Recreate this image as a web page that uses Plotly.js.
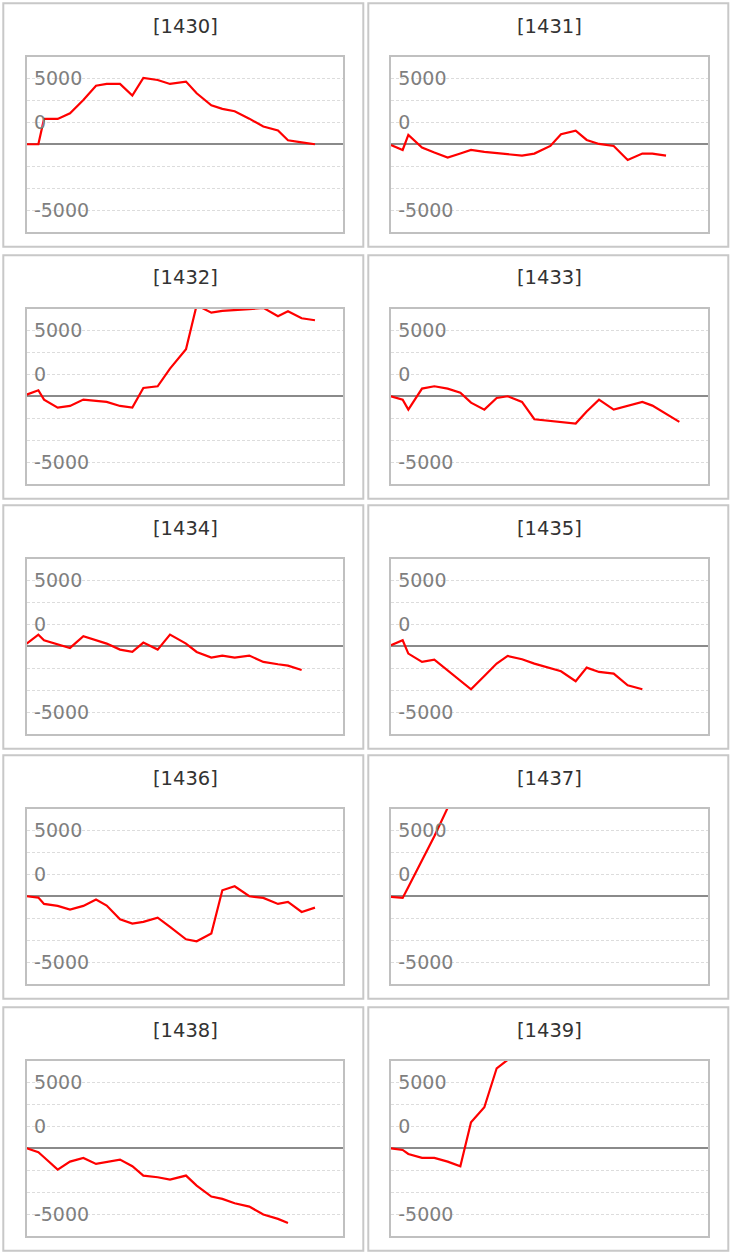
<!DOCTYPE html>
<html>
<head>
<meta charset="utf-8">
<script src="https://cdn.plot.ly/plotly-3.0.1.min.js"></script>
<style>
  html, body { margin: 0; padding: 0; background: #fff; }
  #chart { width: 735px; height: 1254px; }
</style>
</head>
<body>
<div id="chart"></div>
<script>
// shared x positions (trading days)
var days = [0, 3.5, 5.2, 9.3, 13, 17, 20.8, 24, 28, 31.7, 35, 39.3, 43, 47.8, 51, 55.4, 58.7, 62.4, 66.8, 71, 75.4, 78.4, 82.5, 86.5];

var codes = ['1430', '1431', '1432', '1433', '1434', '1435', '1436', '1437', '1438', '1439'];

// values per code
var v1430 = [0, 0, 1920, 1920, 2350, 3360, 4440, 4570, 4570, 3690, 5020, 4870, 4570, 4750, 3860, 2950, 2680, 2500, 1940, 1340, 1040, 300, 150, 0];
var v1431 = [-50, -430, 707, -253, -631, -1010, -695, -430, -580, -665, -746, -860, -707, -126, 758, 1035, 328, 25, -126, -1187, -707, -707, -860];
var v1432 = [126, 455, -253, -860, -732, -253, -354, -430, -732, -860, 631, 758, 2096, 3560, 6900, 6338, 6464, 6515, 6600, 6700, 6060, 6440, 5910, 5760];
var v1433 = [0, -253, -1010, 581, 758, 581, 278, -480, -1010, -126, 0, -430, -1742, -1875, -1960, -2070, -1160, -253, -1010, -707, -430, -707, -1313, -1944];
var v1434 = [202, 884, 455, 150, -126, 758, 455, 202, -253, -430, 278, -253, 884, 202, -430, -860, -707, -860, -707, -1187, -1364, -1465, -1793];
var v1435 = [76, 455, -556, -1187, -1010, -1818, -2651, -3257, -2247, -1313, -732, -985, -1313, -1692, -1894, -2651, -1616, -1944, -2070, -2954, -3257];
var v1436 = [0, -101, -581, -732, -1010, -732, -253, -707, -1742, -2070, -1944, -1616, -2323, -3257, -3409, -2828, 455, 758, 0, -126, -581, -430, -1187, -859];
var v1437 = [-50, -126, 707, 2680, 4545, 6700];
var v1438 = [0, -303, -682, -1616, -1010, -732, -1187, -1061, -859, -1364, -2070, -2197, -2374, -2070, -2828, -3661, -3838, -4166, -4418, -5024, -5353, -5656];
var v1439 = [0, -126, -430, -732, -732, -1010, -1364, 1970, 3106, 6060, 6700];

var seriesList = [v1430, v1431, v1432, v1433, v1434, v1435, v1436, v1437, v1438, v1439];

// gridlines every 5000/3, labels as printed on the chart
var yTickVals = [-5000, -3333.33, -1666.67, 0, 1666.67, 3333.33, 5000];
var yTickText = ['-5000', '', '', '', '0', '', '5000'];

var W = 735, H = 1254;
var rowTops = [0, 252, 502, 752, 1004];
var colLeft = [26.7, 391];
var colRight = [343.3, 707.7];
var panelLeft = [3.3, 368.3];
var panelRight = [363.3, 728.3];

var traces = [];
var layout = {
    width: W,
    height: H,
    margin: {l: 0, r: 0, t: 0, b: 0},
    paper_bgcolor: '#fff',
    plot_bgcolor: '#fff',
    showlegend: false,
    font: {family: 'DejaVu Sans, Verdana, sans-serif'},
    shapes: [],
    annotations: []
};

codes.forEach(function(code, i) {
    var row = Math.floor(i / 2), col = i % 2;
    var top = rowTops[row];
    var n = i + 1;
    var xa = n === 1 ? 'x' : 'x' + n;
    var ya = n === 1 ? 'y' : 'y' + n;
    var vals = seriesList[i];

    traces.push({
        type: 'scatter',
        mode: 'lines',
        x: days.slice(0, vals.length),
        y: vals,
        xaxis: xa,
        yaxis: ya,
        line: {color: '#ff0000', width: 2.2},
        hoverinfo: 'skip'
    });

    layout['xaxis' + (n === 1 ? '' : n)] = {
        domain: [colLeft[col] / W, colRight[col] / W],
        anchor: ya,
        range: [0, 95],
        showgrid: false,
        zeroline: false,
        showticklabels: false,
        ticks: '',
        showline: true,
        mirror: true,
        linecolor: '#c0c0c0',
        linewidth: 2,
        fixedrange: true
    };

    layout['yaxis' + (n === 1 ? '' : n)] = {
        domain: [1 - (top + 231.7) / H, 1 - (top + 56.7) / H],
        anchor: xa,
        range: [-6625, 6635],
        tickvals: yTickVals,
        ticktext: yTickText,
        ticklabelposition: 'inside',
        ticklabelstandoff: 8,
        ticks: '',
        tickfont: {size: 19, color: '#7f7f7f'},
        showgrid: true,
        gridcolor: '#dcdcdc',
        gridwidth: 1,
        griddash: '3px,2px',
        zeroline: true,
        zerolinecolor: '#8a8a8a',
        zerolinewidth: 2,
        showline: true,
        mirror: true,
        linecolor: '#c0c0c0',
        linewidth: 2,
        fixedrange: true
    };

    // panel frame
    layout.shapes.push({
        type: 'rect',
        xref: 'paper', yref: 'paper',
        x0: panelLeft[col] / W, x1: panelRight[col] / W,
        y0: 1 - (top + 246.7) / H, y1: 1 - (top + 3.3) / H,
        line: {color: '#c8c8c8', width: 2},
        fillcolor: 'rgba(0,0,0,0)',
        layer: 'below'
    });

    layout.annotations.push({
        xref: 'paper', yref: 'paper',
        x: (colLeft[col] + colRight[col]) / 2 / W,
        y: 1 - (top + 26) / H,
        xanchor: 'center', yanchor: 'middle',
        text: '[' + code + ']',
        showarrow: false,
        font: {size: 19.5, color: '#333333'}
    });
});

Plotly.newPlot('chart', traces, layout, {displayModeBar: false, staticPlot: true});
</script>
</body>
</html>
